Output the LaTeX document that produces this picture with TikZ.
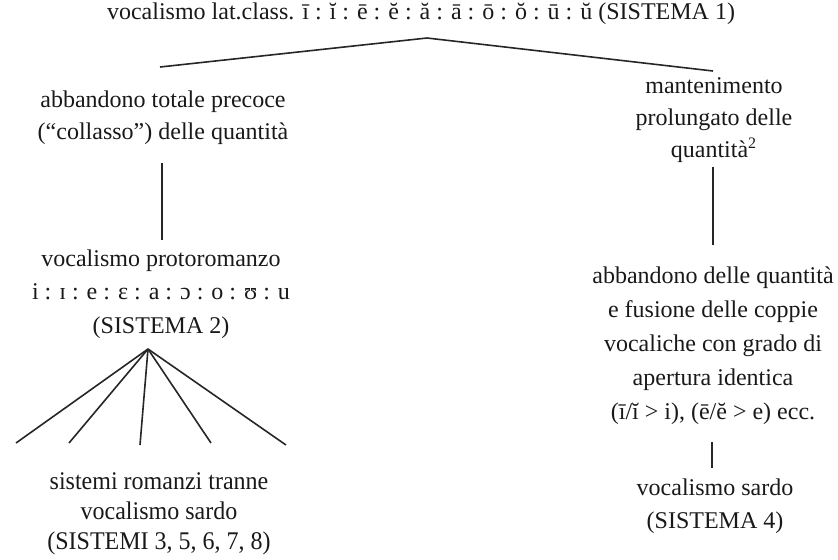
\documentclass[tikz,border=0pt]{standalone}
\usepackage{fontspec}
\usepackage{graphicx}
\setmainfont{Liberation Serif}
\begin{document}
\begin{tikzpicture}[x=0.5pt,y=-0.5pt,
  txt/.style={font=\fontsize{12}{16}\selectfont, align=center, inner sep=0pt, text=black!90},
  link/.style={line width=0.8pt, draw=black!85}]
\useasboundingbox (0,0) rectangle (838,559);
% nodes
\node[txt] (top) at (421,14) {vocalismo lat.class. ī : ĭ : ē : ĕ : ă : ā : ō : ŏ : ū : ŭ (SISTEMA 1)};
\node[txt] (L1) at (163,117.5) {abbandono totale precoce\\(“collasso”) delle quantità};
\node[txt, font=\fontsize{12}{16.8}\selectfont] (L2) at (161,294) {vocalismo protoromanzo\\i : ɪ : e : ɛ : a : ɔ : o : ʊ : u\\(SISTEMA 2)};
\node[txt, font=\fontsize{12}{15.5}\selectfont] (L3) at (159,513) {\scalebox{1}[1.06]{\begin{tabular}{@{}c@{}}sistemi romanzi tranne\\[-1.5pt]vocalismo sardo\\[-1.5pt](SISTEMI 3, 5, 6, 7, 8)\end{tabular}}};
\node[txt] (R1) at (714,120) {mantenimento\\prolungato delle\\quantità\textsuperscript{2}};
\node[txt, font=\fontsize{12}{17}\selectfont] (R2) at (713,345.5) {abbandono delle quantità\\e fusione delle coppie\\vocaliche con grado di\\apertura identica\\(ī/ĭ > i), (ē/ĕ > e) ecc.};
\node[txt, font=\fontsize{12}{16.5}\selectfont] (R3) at (715,506) {vocalismo sardo\\(SISTEMA 4)};
% connector end points
\coordinate (apex) at (427,38);
\coordinate (lend) at (160,67);
\coordinate (rend) at (713,71);
\coordinate (v1a) at (162,163);
\coordinate (v1b) at (162,240);
\coordinate (fan) at (148,349);
\coordinate (f1) at (16,443);
\coordinate (f2) at (69,443);
\coordinate (f3) at (140,445);
\coordinate (f4) at (211,443);
\coordinate (f5) at (286,445);
\coordinate (v2a) at (713,167);
\coordinate (v2b) at (713,245);
\coordinate (v3a) at (712,442);
\coordinate (v3b) at (712,468);
% connectors
\draw[link] (lend) -- (apex) -- (rend);
\draw[link] (v1a) -- (v1b);
\foreach \e in {f1,f2,f3,f4,f5} \draw[link] (fan) -- (\e);
\draw[link] (v2a) -- (v2b);
\draw[link] (v3a) -- (v3b);
\end{tikzpicture}
\end{document}
